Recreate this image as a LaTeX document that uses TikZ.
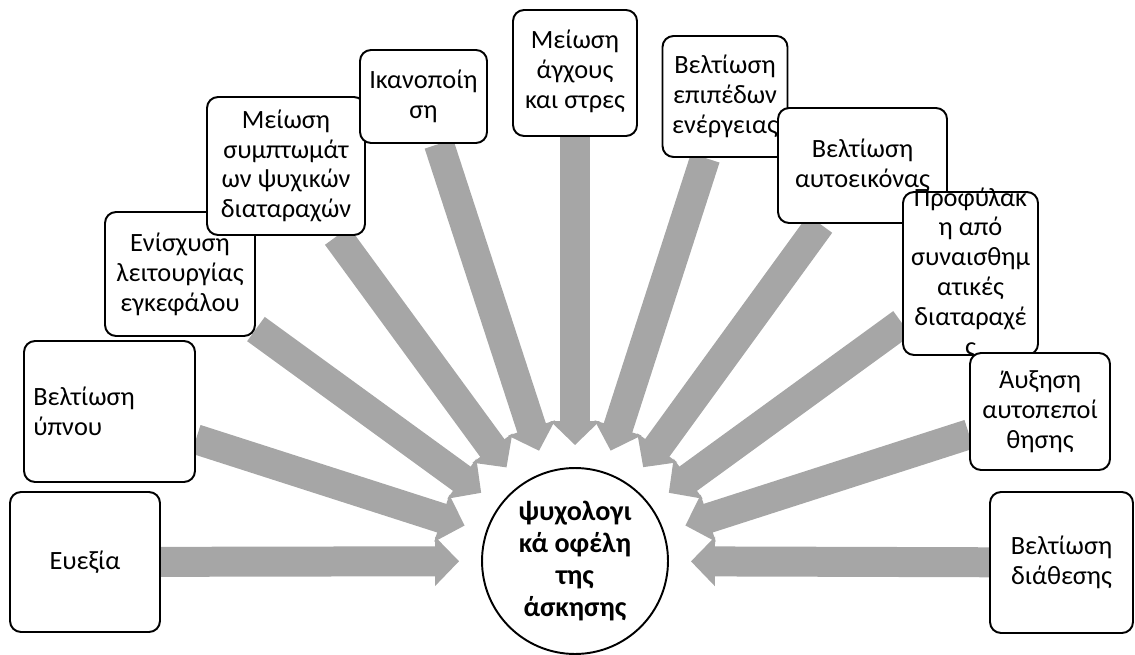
\documentclass[tikz,border=0pt]{standalone}
\usepackage{fontspec}
\setmainfont{Carlito}
\usetikzlibrary{arrows.meta, backgrounds}
\definecolor{arrgray}{RGB}{166,166,166}

\begin{document}
\begin{tikzpicture}[x=0.02cm,y=-0.02cm,
  box/.style={draw,line width=1.1pt,rounded corners=0.22cm,fill=white,inner sep=0pt},
  txt/.style={align=center,inner sep=0pt,font=\fontsize{15}{17}\selectfont},
  bigarr/.style={-{Triangle[width=0.96cm,length=0.48cm]},line width=0.6cm,arrgray,shorten >=0.44cm}]
\useasboundingbox (0,0) rectangle (1135,655);

%%%centre
\node[circle,draw,line width=1.1pt,minimum size=3.72cm,fill=white,inner sep=0pt,align=center,
  font=\bfseries\fontsize{16}{18.2}\selectfont] (psy) at (575,561) {ψυχολογι\\κά οφέλη\\της\\άσκησης};

%%%left side
\node[box,minimum width=3.0cm,minimum height=2.8cm] (b1) at (85,562) {};
\node[txt] (b1t) at (b1) {Ευεξία};
\node[box,minimum width=3.42cm,minimum height=2.82cm] (b2) at (109.5,411.5) {};
\node[txt,align=left,anchor=west] (b2t) at (33,411.5) {Βελτίωση\\ύπνου};
\node[box,minimum width=3.0cm,minimum height=2.48cm] (b3) at (180,274) {};
\node[txt] (b3t) at (b3) {Ενίσχυση\\λειτουργίας\\εγκεφάλου};
\node[box,minimum width=3.16cm,minimum height=2.76cm] (b4) at (286,166) {};
\node[txt] (b4t) at (b4) {Μείωση\\συμπτωμάτ\\ων ψυχικών\\διαταραχών};
\node[box,minimum width=2.54cm,minimum height=1.86cm] (b5) at (423.5,96.5) {};
\node[txt] (b5t) at (b5) {Ικανοποίη\\ση};

%%%top
\node[box,minimum width=2.48cm,minimum height=2.52cm] (b6) at (575,73) {};
\node[txt] (b6t) at (575,71) {Μείωση\\άγχους\\και στρες};

%%%right side
\node[box,minimum width=2.5cm,minimum height=2.42cm] (b7) at (725,96.5) {};
\node[txt] (b7t) at (b7) {Βελτίωση\\επιπέδων\\ενέργειας};
\node[box,minimum width=3.38cm,minimum height=2.3cm] (b8) at (862.5,165.5) {};
\node[txt] (b8t) at (b8) {Βελτίωση\\αυτοεικόνας};
\node[box,minimum width=2.7cm,minimum height=3.26cm] (b9) at (970.5,273.5) {};
\node[txt] (b9t) at (b9) {Προφύλακ\\η από\\συναισθημ\\ατικές\\διαταραχέ\\ς};
\node[box,minimum width=2.8cm,minimum height=2.34cm] (b10) at (1040,411.5) {};
\node[txt] (b10t) at (b10) {Άυξηση\\αυτοπεποί\\θησης};
\node[box,minimum width=2.86cm,minimum height=2.82cm] (b11) at (1061.5,562.5) {};
\node[txt] (b11t) at (b11) {Βελτίωση\\διάθεσης};

%%%arrows
\begin{scope}[on background layer]
\foreach \i in {1,...,11}
  \draw[bigarr] (b\i) -- (psy);
\end{scope}

\end{tikzpicture}
\end{document}
